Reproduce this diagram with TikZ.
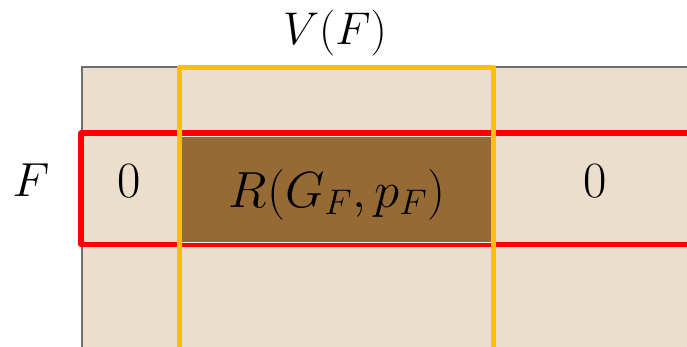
\RequirePackage{fix-cm}
\documentclass[tikz,border=0pt]{standalone}
\definecolor{beige}{RGB}{236,222,204}
\definecolor{brownfill}{RGB}{149,106,52}
\definecolor{frameyellow}{RGB}{255,192,0}
\definecolor{framered}{RGB}{255,0,0}
\definecolor{framegray}{RGB}{110,110,110}
\definecolor{thinedge}{RGB}{232,232,228}
\tikzset{
  grayedge/.style={draw=framegray, line width=2bp, line join=miter},
  redframe/.style={draw=framered, line width=5.5bp, line join=round},
  yellowframe/.style={draw=frameyellow, line width=5bp, line join=round},
  corebox/.style={fill=brownfill, draw=thinedge, line width=1.5bp, minimum width=313bp, minimum height=106bp, inner sep=0pt},
  label/.style={inner sep=0pt, anchor=base},
  fs/.style={font=\fontsize{#1}{#1}\selectfont},
}
\begin{document}
\begin{tikzpicture}[x=1bp,y=-1bp]
\useasboundingbox (0,0) rectangle (687,346);
\fill[beige] (82,67) rectangle (692,350);
\draw[grayedge] (82,350) -- (82,67) -- (692,67);
\draw[redframe] (695,133) -- (81,133) -- (81,244.5) -- (695,244.5);
\node[corebox] (core) at (336.5,189.5) {};
\draw[yellowframe] (179,352) -- (179,67.5) -- (493,67.5) -- (493,352);
\node[label, fs=46] (vf) at (335,44) {$V(F)$};
\node[label, fs=48] (f) at (31,196.7) {$F$};
\node[label, fs=51] (zl) at (128.7,197) {$0$};
\node[label, fs=51] (zr) at (595,197) {$0$};
\node[label, fs=51] (r) at (337,207) {$R(G_F,p_F)$};
\end{tikzpicture}
\end{document}
